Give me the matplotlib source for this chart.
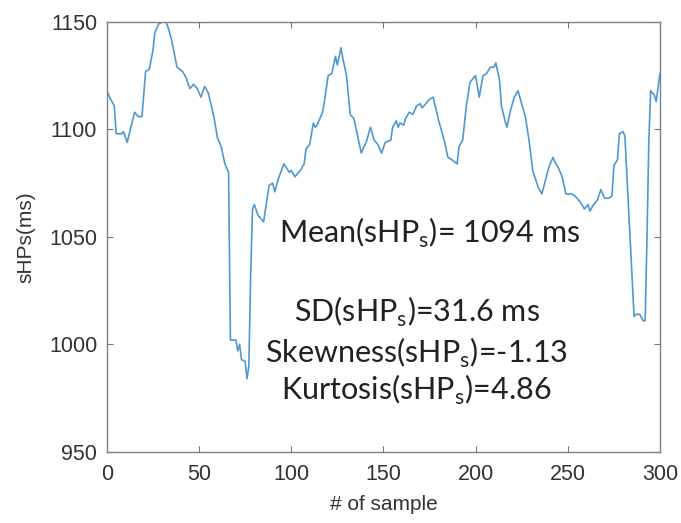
import numpy as np
import matplotlib.pyplot as plt

# sample index / smoothed heart period (ms)
sample = [0, 2, 4, 5, 8, 9, 11, 13, 15, 17, 19, 21, 23, 25, 26, 28, 30, 32, 33, 35,
          38, 41, 43, 45, 47, 49, 51, 53, 55, 58, 60, 62, 64, 66, 67, 70, 71, 72, 73, 75,
          76, 77, 78, 79, 80, 82, 85, 88, 90, 91, 93, 96, 99, 100, 102, 105, 107, 108, 110, 112,
          113, 114, 117, 118, 120, 122, 124, 125, 127, 128, 130, 132, 134, 136, 138, 141, 143, 145, 147, 149,
          151, 154, 155, 157, 158, 159, 161, 162, 164, 166, 168, 170, 171, 174, 175, 177, 180, 183, 185, 187,
          190, 191, 193, 195, 197, 200, 202, 204, 206, 208, 210, 211, 213, 214, 216, 217, 219, 221, 223, 225,
          227, 229, 231, 234, 236, 239, 240, 242, 243, 245, 247, 249, 252, 254, 257, 259, 261, 262, 264, 266,
          268, 270, 272, 274, 275, 277, 278, 280, 281, 282, 284, 286, 287, 289, 291, 292, 293, 294, 295, 297,
          298, 300]
shp = [1118, 1114, 1111, 1098, 1098, 1099, 1094, 1101, 1108, 1106, 1106, 1127, 1128, 1137, 1145, 1149, 1150, 1150, 1148, 1142,
       1129, 1127, 1124, 1119, 1121, 1119, 1115, 1120, 1117, 1106, 1096, 1092, 1084, 1080, 1002, 1002, 997, 1000, 993, 992,
       984, 990, 1033, 1063, 1065, 1060, 1057, 1074, 1075, 1071, 1077, 1084, 1080, 1081, 1078, 1081, 1084, 1091, 1093, 1103,
       1101, 1102, 1108, 1113, 1125, 1126, 1134, 1130, 1138, 1133, 1125, 1107, 1105, 1097, 1089, 1095, 1101, 1095, 1093, 1089,
       1094, 1095, 1101, 1104, 1101, 1103, 1102, 1105, 1108, 1107, 1111, 1112, 1110, 1113, 1114, 1115, 1104, 1095, 1087, 1086,
       1084, 1092, 1095, 1111, 1122, 1125, 1115, 1125, 1126, 1129, 1129, 1131, 1123, 1111, 1104, 1101, 1109, 1115, 1118, 1112,
       1106, 1095, 1081, 1073, 1070, 1080, 1083, 1087, 1085, 1082, 1078, 1070, 1070, 1069, 1066, 1063, 1065, 1062, 1065, 1067,
       1072, 1068, 1068, 1069, 1083, 1086, 1098, 1099, 1097, 1080, 1046, 1013, 1014, 1014, 1011, 1011, 1049, 1095, 1118, 1116,
       1113, 1126]

stats = ["Mean(sHP$_\\mathregular{s}$)= 1094 ms",
         "SD(sHP$_\\mathregular{s}$)=31.6 ms",
         "Skewness(sHP$_\\mathregular{s}$)=-1.13",
         "Kurtosis(sHP$_\\mathregular{s}$)=4.86"]

plt.rcParams['mathtext.fontset'] = 'custom'
plt.rcParams['mathtext.rm'] = 'Lato'

fig = plt.figure(figsize=(6.81, 5.23), dpi=100)
ax = fig.add_axes([0.157, 0.136, 0.812, 0.822])

ax.plot(sample, shp, color='#5198cf', lw=1.2)

ax.set_xlim(0, 300)
ax.set_ylim(950, 1150)
ax.set_xticks(np.arange(0, 301, 50))
ax.set_yticks(np.arange(950, 1151, 50))
ax.tick_params(direction='in', length=4, top=True, right=True, color='#777777',
               labelsize=15.5, labelcolor='#333333', pad=9)
ax.tick_params(axis='y', pad=7)
for lab in ax.get_xticklabels() + ax.get_yticklabels():
    lab.set_family('Liberation Sans')
for sp in ax.spines.values():
    sp.set_color('#808080')
    sp.set_linewidth(1.0)

ax.set_xlabel("# of sample", family='Liberation Sans', fontsize=15, color='#333333', labelpad=7)
ax.set_ylabel("sHPs(ms)", family='Liberation Sans', fontsize=15, color='#333333', labelpad=10)

txt = dict(family='Lato', fontsize=22, color='#222222', ha='center', va='center')
ax.text(175, 1052, stats[0], **txt)
ax.text(168, 1015, stats[1], **txt)
ax.text(168, 996, stats[2], **txt)
ax.text(168, 979, stats[3], **txt)

fig.savefig('out.png', dpi=100)
